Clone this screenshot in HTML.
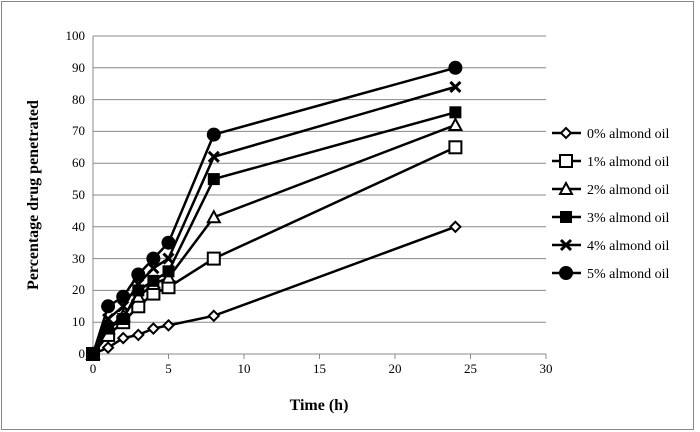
<!DOCTYPE html>
<html><head><meta charset="utf-8"><style>
body{margin:0;background:#fff}
svg{display:block}
text{font-family:"Liberation Serif","DejaVu Serif",serif}
</style></head><body>
<svg id="c" width="700" height="432" font-family="'Liberation Serif', 'DejaVu Serif', serif">
<rect x="1.5" y="1.5" width="692" height="428" fill="#fff" stroke="#888"/>
<g id="grid"></g><g id="axes"></g>
<g font-size="13" text-anchor="end">
<text x="85" y="358">0</text><text x="85" y="326">10</text><text x="85" y="294">20</text><text x="85" y="263">30</text><text x="85" y="231">40</text><text x="85" y="199">50</text><text x="85" y="167">60</text><text x="85" y="135">70</text><text x="85" y="104">80</text><text x="85" y="72">90</text><text x="85" y="40">100</text>
</g>
<g font-size="13" text-anchor="middle">
<text x="93" y="373">0</text><text x="168.5" y="373">5</text><text x="244" y="373">10</text><text x="319.5" y="373">15</text><text x="395" y="373">20</text><text x="470.5" y="373">25</text><text x="546" y="373">30</text>
</g>
<g id="series"></g><g id="legend"></g>
<g font-size="14">
<text x="587" y="138">0% almond oil</text><text x="587" y="166">1% almond oil</text><text x="587" y="194">2% almond oil</text><text x="587" y="222">3% almond oil</text><text x="587" y="250">4% almond oil</text><text x="587" y="278">5% almond oil</text>
</g>
<text x="319" y="410" text-anchor="middle" font-size="16" font-weight="bold">Time (h)</text>
<text transform="translate(38,195) rotate(-90)" text-anchor="middle" font-size="16" font-weight="bold">Percentage drug penetrated</text>
</svg>
<script>
const times=[0,1,2,3,4,5,8,24];
const s0=[0,2,5,6,8,9,12,40];
const s1=[0,6,10,15,19,21,30,65];
const s2=[0,8,12,18,22,24,43,72];
const s3=[0,8,11,20,23,26,55,76];
const s4=[0,11,15,22,27,30,62,84];
const s5=[0,15,18,25,30,35,69,90];
const xTicks=[0,5,10,15,20,25,30];
const yTicks=[0,10,20,30,40,50,60,70,80,90,100];
const NS="http://www.w3.org/2000/svg";
const X=v=>93+v*(546-93)/30, Y=v=>354-v*(354-36)/100;
function mk(t,a,p){const e=document.createElementNS(NS,t);for(const k in a)e.setAttribute(k,a[k]);(p||document.getElementById('c')).appendChild(e);return e;}
const grid=document.getElementById('grid'),axes=document.getElementById('axes');
yTicks.forEach(v=>{
 const l=mk('line',{x1:X(0),x2:X(30),y1:Y(v),y2:Y(v),stroke:'#888','stroke-width':1},grid);
 
 
});
xTicks.forEach(v=>{
 mk('line',{x1:X(v),x2:X(v),y1:Y(0),y2:Y(0)+5,stroke:'#888'},axes);
});
mk('line',{x1:X(0),x2:X(0),y1:Y(0),y2:Y(100),stroke:'#888'},axes);
function marker(k,x,y,g){
 const st={stroke:'#000','stroke-width':2};
 if(k==0)return mk('path',Object.assign({d:`M${x} ${y-5}L${x+5} ${y}L${x} ${y+5}L${x-5} ${y}Z`,fill:'#fff'},st),g);
 if(k==1)return mk('rect',Object.assign({x:x-6,y:y-6,width:12,height:12,fill:'#fff'},st),g);
 if(k==2)return mk('path',Object.assign({d:`M${x} ${y-6}L${x+6} ${y+5}L${x-6} ${y+5}Z`,fill:'#fff'},st),g);
 if(k==3)return mk('rect',{x:x-6,y:y-6,width:12,height:12,fill:'#000'},g);
 if(k==4)return mk('path',{d:`M${x-5} ${y-5}L${x+5} ${y+5}M${x+5} ${y-5}L${x-5} ${y+5}`,stroke:'#000','stroke-width':3},g);
 return mk('circle',{cx:x,cy:y,r:7,fill:'#000'},g);
}
const all=[s0,s1,s2,s3,s4,s5];
const sg=document.getElementById('series'),lg=document.getElementById('legend');
all.forEach((d,k)=>{
 const g=mk('g',{},sg);
 
 
 mk('polyline',{points:d.map((v,i)=>X(times[i])+','+Y(v)).join(' '),fill:'none',stroke:'#000','stroke-width':2.5},g);
 d.forEach((v,i)=>{const m=marker(k,X(times[i]),Y(v),g);
  
  });
 const ly=133+k*28;
 const e=mk('g',{},lg);
 
 
 mk('line',{x1:552,x2:581,y1:ly,y2:ly,stroke:'#000','stroke-width':2.5},e);
 marker(k,566,ly,e);
});
</script>
</body></html>
